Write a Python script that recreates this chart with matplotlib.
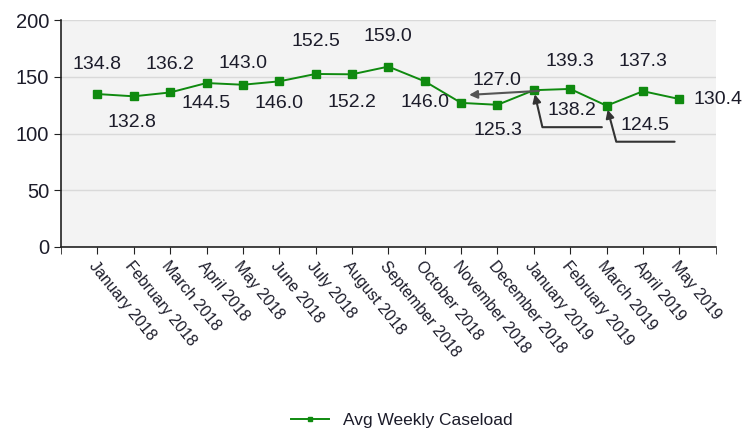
import matplotlib
matplotlib.use("Agg")
import matplotlib.pyplot as plt
from matplotlib.transforms import offset_copy
import numpy as np

plt.rcParams['font.family'] = ['Liberation Sans', 'DejaVu Sans']

# monthly average weekly caseload
months = ["January 2018", "February 2018", "March 2018", "April 2018", "May 2018",
          "June 2018", "July 2018", "August 2018", "September 2018", "October 2018",
          "November 2018", "December 2018", "January 2019", "February 2019",
          "March 2019", "April 2019", "May 2019"]
caseload = [134.8, 132.8, 136.2, 144.5, 143.0, 146.0, 152.5, 152.2, 159.0,
            146.0, 127.0, 125.3, 138.2, 139.3, 124.5, 137.3, 130.4]

# where each value label sits relative to its point (pixels)
label_offsets = [(0, 30), (-2, -26), (0, 28), (0, -20), (0, 21), (0, -22),
                 (0, 32), (0, -28), (0, 30), (0, -21), None, (0, -26),
                 None, (0, 27), None, (0, 30), (14, 0)]
# values drawn with a leader line instead:
# index -> (text offset, line start, arrow tip offset, angleB)
callouts = {10: ((36, 22), (70, 4), (8, 8), None),
            12: ((38, -20), (68, -37), (0, 0), 103),
            14: ((38, -20), (68, -36), (0, 0), 105)}

green = "#0f8a0f"
txt = "#1c1c2a"

fig = plt.figure(figsize=(7.44, 4.37), dpi=100)
ax = fig.add_axes([0.082, 0.435, 0.880, 0.519])
ax.set_facecolor("#f3f3f3")

x = np.arange(len(months))
ax.plot(x, caseload, color=green, lw=1.4, marker="s", ms=5.5,
        label="Avg Weekly Caseload", zorder=3)

ax.set_xlim(-1, len(months))
ax.set_ylim(0, 200)
ax.set_yticks([0, 50, 100, 150, 200])
ax.grid(axis="y", color="#d9d9d9", lw=1)
ax.set_axisbelow(True)

ax.set_xticks(x)
ax.set_xticks([-1, len(months)], minor=True)
ax.set_xticklabels(months, rotation=-51, ha="left", va="top",
                   rotation_mode="anchor", fontsize=11.5, color=txt)
ax.tick_params(axis="x", which="both", length=5, color="#222222")
ax.tick_params(axis="y", length=5, labelsize=14.5, colors=txt)
ax.tick_params(axis="y", color="#222222")

for s in ["top", "right"]:
    ax.spines[s].set_visible(False)
for s in ["left", "bottom"]:
    ax.spines[s].set_color("#222222")
    ax.spines[s].set_linewidth(1.2)

for i, v in enumerate(caseload):
    off = label_offsets[i]
    if off is None:
        continue
    ha = "left" if off[0] > 5 else "center"
    ax.annotate("%.1f" % v, (i, v), xytext=off, textcoords="offset pixels",
                ha=ha, va="center", fontsize=14, color=txt)

for i, (toff, start, tip, angb) in callouts.items():
    v = caseload[i]
    ax.annotate("%.1f" % v, (i, v), xytext=toff, textcoords="offset pixels",
                ha="center", va="center", fontsize=14, color=txt)
    if angb is None:
        style = "arc3"
        line_col = "#555555"
    else:
        style = "angle,angleA=0,angleB=%d,rad=0" % angb
        line_col = "#333333"
    tip_tr = offset_copy(ax.transData, fig=fig, x=tip[0], y=tip[1], units="dots")
    ax.annotate("", (i, v), xycoords=tip_tr, xytext=start, textcoords="offset pixels",
                arrowprops=dict(arrowstyle="-|>", color=line_col, lw=1.5,
                                shrinkA=0, shrinkB=0 if tip != (0, 0) else 3,
                                mutation_scale=12, connectionstyle=style))

fig.legend(loc="center", bbox_to_anchor=(0.54, 0.037), frameon=False,
           fontsize=12.5, labelcolor=txt, handlelength=2.2, markerscale=0.6)

fig.savefig("out.png", dpi=100)
